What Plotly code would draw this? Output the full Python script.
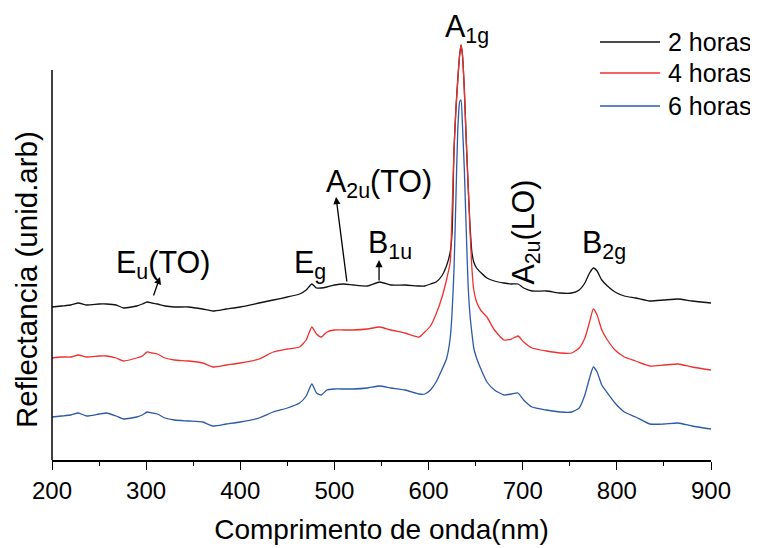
import plotly.graph_objects as go

# Wavelength grid (nm)
wavelength = [200, 210, 220, 228, 237, 250, 258, 268, 276, 290, 296, 301, 306, 312, 320, 330, 345, 360, 371, 385,
              400, 420, 435, 450, 463, 470, 476, 481, 486, 492, 500, 510, 520, 535, 548, 560, 575, 590, 596, 602,
              608, 614, 619, 623, 625, 627, 629, 631, 633, 634.5, 636, 638, 640, 642, 644, 646, 648, 651, 656, 662,
              670, 680, 688, 695, 701, 710, 725, 740, 752, 760, 766, 771, 775, 779, 784, 790, 798, 808, 820, 835,
              850, 865, 880, 900]

# Reflectance (arb. units, offset spectra)
refl_2h = [153, 154, 155, 157, 155, 156, 156, 155, 152, 154, 156, 158, 157, 156, 154, 153, 153, 151, 149, 151,
           153, 157, 160, 163, 166, 170, 176, 172, 172, 173, 175, 176, 175, 174, 178, 175, 175, 174, 174, 176,
           178, 184, 194, 208, 228, 310, 350, 380, 405, 415, 405, 370, 320, 275, 235, 208, 198, 192, 187, 182,
           179, 177, 176, 176, 172, 169, 169, 167, 167, 170, 177, 187, 192, 189, 180, 174, 168, 164, 162, 159,
           160, 161, 159, 157]

refl_4h = [102, 103, 103, 105, 103, 104, 104, 102, 99, 102, 104, 108, 107, 106, 102, 100, 99, 97, 93, 95,
           97, 101, 108, 111, 113, 120, 133, 126, 123, 128, 130, 130, 130, 131, 133, 130, 127, 123, 128, 134,
           146, 162, 180, 198, 250, 310, 350, 380, 405, 415, 405, 370, 320, 275, 230, 192, 170, 158, 149, 143,
           130, 120, 121, 124, 118, 112, 109, 107, 107, 112, 122, 138, 151, 145, 130, 120, 110, 103, 99, 94,
           95, 96, 93, 90]

refl_6h = [43, 44, 45, 47, 44, 46, 47, 44, 41, 43, 45, 48, 47, 46, 42, 40, 39, 38, 34, 36,
           38, 42, 48, 52, 57, 64, 76, 67, 65, 70, 71, 71, 71, 72, 74, 72, 70, 66, 66, 70,
           78, 90, 101, 122, 148, 190, 260, 330, 358, 360, 335, 290, 230, 175, 145, 127, 112, 102, 90, 78,
           70, 65, 66, 67, 60, 53, 50, 48, 48, 52, 65, 82, 93, 88, 75, 67, 57, 48, 43, 36,
           36, 37, 34, 31]

series_names = ["2 horas", "4 horas", "6 horas"]
series_values = [refl_2h, refl_4h, refl_6h]
series_colors = ["#111111", "#f0302f", "#2c5aa8"]

x_ticks = [200, 300, 400, 500, 600, 700, 800, 900]

FONT = "Arial, Liberation Sans, sans-serif"

fig = go.Figure()
for name, vals, col in zip(series_names, series_values, series_colors):
    fig.add_trace(go.Scatter(x=wavelength, y=vals, mode="lines", name=name,
                             line=dict(color=col, width=1.3, shape="spline", smoothing=0.5),
                             showlegend=False))

# page body has an 8px margin: figure is drawn 8px right and down
W, H = 750, 540
ML, MR, MT, MB = 44, 47, 0, 88
PW = W - ML - MR   # 659
PH = H - MT - MB   # 452

def px2paper_x(px):   # px in window coordinates
    return (px - 52) / PW

def py2paper_y(py):   # py in window coordinates
    return (460 - py) / PH

shapes = []
annotations = []

# left spine (starts below top of plot area)
shapes.append(dict(type="line", xref="paper", yref="paper", x0=0, x1=0,
                   y0=0, y1=py2paper_y(70), line=dict(color="black", width=1.5)))

# manual legend
leg_py = [42, 73, 106]
for name, col, py in zip(series_names, series_colors, leg_py):
    shapes.append(dict(type="line", xref="paper", yref="paper",
                       x0=px2paper_x(600), x1=px2paper_x(660),
                       y0=py2paper_y(py), y1=py2paper_y(py),
                       line=dict(color=col, width=1.3)))
    annotations.append(dict(text=name, xref="paper", yref="paper",
                            x=px2paper_x(666), y=py2paper_y(py),
                            xanchor="left", yanchor="middle", showarrow=False,
                            font=dict(family=FONT, size=25, color="black")))

# peak labels
AF = dict(family=FONT, size=30.5, color="black")
labels = [
    ("A<sub>1g</sub>", 615.3, 432),
    ("E<sub>u</sub>(TO)", 265.8, 196),
    ("E<sub>g</sub>", 454.8, 196),
    ("A<sub>2u</sub>(TO)", 488.8, 277),
    ("B<sub>1u</sub>", 533.3, 216),
    ("B<sub>2g</sub>", 760.8, 216),
]
for txt, x, y in labels:
    annotations.append(dict(text=txt, x=x, y=y, xref="x", yref="y",
                            xanchor="left", yanchor="middle", showarrow=False, font=AF))
annotations.append(dict(text="A<sub>2u</sub>(LO)", x=702, y=228, xref="x", yref="y",
                        xanchor="center", yanchor="middle", showarrow=False,
                        textangle=-90, font=AF))

# arrows
arrows = [((307.3, 163), (314.7, 183)),
          ((513.4, 177), (501.7, 263)),
          ((547.4, 178), (547.4, 200))]
for (tx, ty), (hx, hy) in arrows:
    annotations.append(dict(text="", x=hx, y=hy, ax=tx, ay=ty, xref="x", yref="y",
                            axref="x", ayref="y", showarrow=True, arrowhead=2,
                            arrowsize=1.1, arrowwidth=1.3, arrowcolor="black"))

# y title
annotations.append(dict(text="Reflectancia (unid.arb)", xref="paper", yref="paper",
                        x=px2paper_x(26), y=py2paper_y(280), xanchor="center", yanchor="middle",
                        textangle=-90, showarrow=False,
                        font=dict(family=FONT, size=29.5, color="black")))

fig.update_layout(
    width=W, height=H,
    margin=dict(l=ML, r=MR, t=MT, b=MB, pad=0),
    paper_bgcolor="white", plot_bgcolor="white",
    font=dict(family=FONT, color="black"),
    shapes=shapes, annotations=annotations,
    showlegend=False,
)
fig.update_xaxes(range=[200, 900], tickvals=x_ticks, ticktext=[str(t) for t in x_ticks],
                 showline=True, linecolor="black", linewidth=1.5,
                 ticks="outside", ticklen=8, tickwidth=1.3, tickcolor="black",
                 minor=dict(dtick=50, tick0=200, ticks="outside", ticklen=4, tickwidth=1.3,
                            tickcolor="black", showgrid=False),
                 showgrid=False, zeroline=False,
                 tickfont=dict(family=FONT, size=24, color="black"),
                 title=dict(text="Comprimento de onda(nm)", standoff=17,
                            font=dict(family=FONT, size=28, color="black")))
fig.update_yaxes(range=[0, 452], showticklabels=False, showgrid=False, zeroline=False,
                 showline=False, ticks="")

fig.write_html("out.html")
